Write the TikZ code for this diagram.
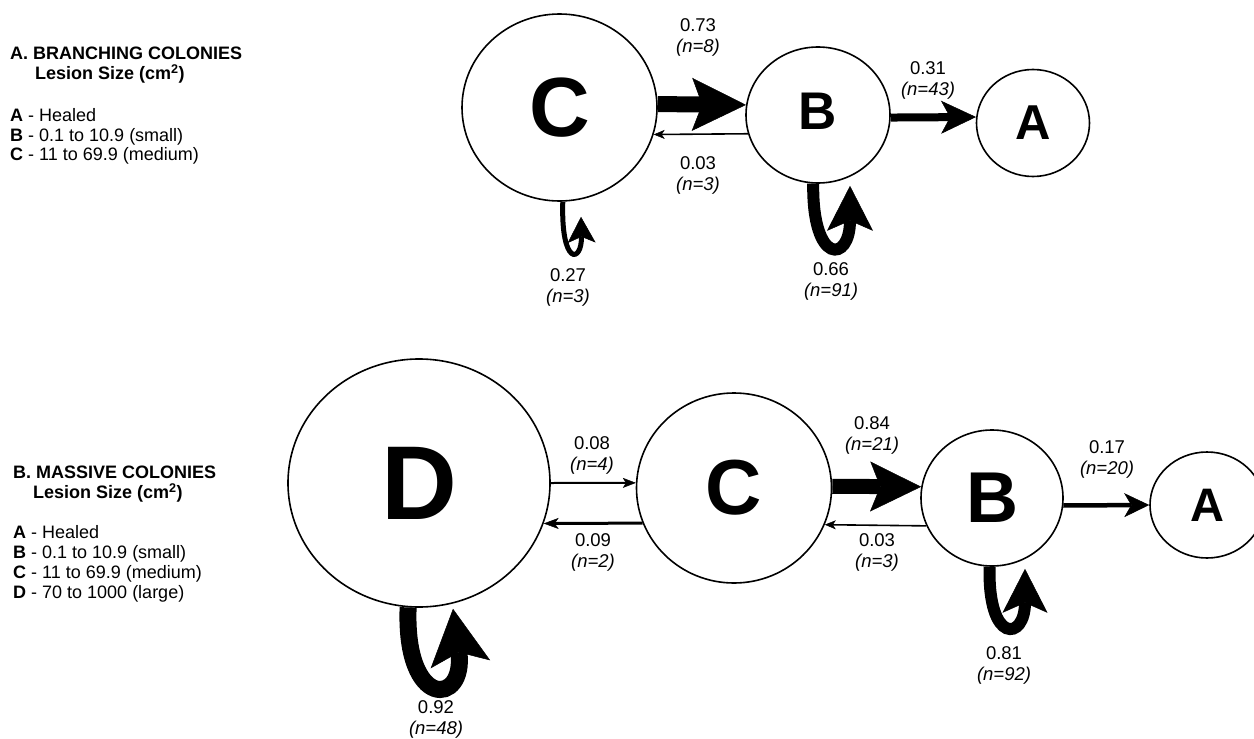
\documentclass[tikz,border=0pt]{standalone}
\usepackage{fontspec}
\setmainfont{Liberation Sans}
\usetikzlibrary{arrows.meta,shapes.geometric}

\begin{document}
\begin{tikzpicture}[x=1pt,y=1pt,
	state/.style n args={3}{ellipse, draw, line width=1.6pt, inner sep=0pt,
		minimum width=#1pt, minimum height=#2pt, font=\bfseries\fontsize{#3}{#3}\selectfont},
	rate/.style={align=center, inner sep=0pt, font=\fontsize{18.5}{21}\selectfont},
	legend/.style={anchor=base west, inner sep=0pt, font=\fontsize{18}{20}\selectfont},
	flow/.style n args={4}{line width=#1pt,
		-{Stealth[length=#2pt,width=#3pt,inset=#4pt,line width=0.5pt]}}]
	\useasboundingbox (0,0) rectangle (1254,-739);

	% A. Branching colonies
	% Legend
	\node[legend] (titleA) at (10,-59.5) {\textbf{A. BRANCHING COLONIES}};
	\node[legend] (sizeA) at (35,-79.5) {\textbf{Lesion Size (cm\textsuperscript{2})}};
	\node[legend] (healA) at (10,-121.5) {\textbf{A} - Healed};
	\node[legend] (smallA) at (10,-141) {\textbf{B} - 0.1 to 10.9 (small)};
	\node[legend] (mediumA) at (10,-160.5) {\textbf{C} - 11 to 69.9 (medium)};

	% States
	\node[state={195}{187}{84}] (C1) at (559.5,-107.5) {C};
	\node[state={144}{136}{53}] (B1) at (818,-115) {\raisebox{7pt}{B}};
	\node[state={113}{107}{49}] (A1) at (1033,-123) {A};

	% Transitions
	\draw[flow={16}{54}{53}{10}] (C1.2) -- (B1.172);
	\draw[flow={1.6}{11}{9}{3}] (B1.195) -- (C1.344);
	\draw[flow={8}{35}{33}{9}] (B1.358) -- (A1.174);

	% Stasis loops
	\coordinate (C1tip) at ([shift={(21.5,-15)}]C1.south);
	\draw[flow={5}{26}{28}{6}] (C1.272) .. controls +(-2,-65) and +(1,-46) .. (C1tip);
	\coordinate (B1tip) at ([shift={(32,-2)}]B1.south);
	\draw[flow={12}{45}{46}{10}] (B1.266) .. controls +(-1,-82) and +(0,-77) .. (B1tip);

	% Probabilities
	\node[rate] (rCB1) at (698,-37) {0.73\\\textit{(n=8)}};
	\node[rate] (rBC1) at (698,-175) {0.03\\\textit{(n=3)}};
	\node[rate] (rBA1) at (928,-80) {0.31\\\textit{(n=43)}};
	\node[rate] (rCC1) at (568,-287) {0.27\\\textit{(n=3)}};
	\node[rate] (rBB1) at (831,-281) {0.66\\\textit{(n=91)}};

	% B. Massive colonies
	% Legend
	\node[legend] (titleB) at (13,-478.5) {\textbf{B. MASSIVE COLONIES}};
	\node[legend] (sizeB) at (33,-498.5) {\textbf{Lesion Size (cm\textsuperscript{2})}};
	\node[legend] (healB) at (13,-538.5) {\textbf{A} - Healed};
	\node[legend] (smallB) at (13,-558.5) {\textbf{B} - 0.1 to 10.9 (small)};
	\node[legend] (mediumB) at (13,-578.5) {\textbf{C} - 11 to 69.9 (medium)};
	\node[legend] (largeB) at (13,-598.5) {\textbf{D} - 70 to 1000 (large)};

	% States
	\node[state={262}{248}{105}] (D2) at (419,-483) {D};
	\node[state={195}{190}{78}] (C2) at (734,-488) {C};
	\node[state={142}{136}{72}] (B2) at (992,-498) {B};
	\node[state={114}{106}{47}] (A2) at (1207,-505) {A};

	% Transitions
	\draw[flow={2}{13}{10}{3}] (D2.0) -- (C2.177);
	\draw[flow={3}{15}{11}{4}] (C2.201) -- (D2.342);
	\draw[flow={15}{51}{50}{10}] (C2.1) -- (B2.171);
	\draw[flow={1.6}{11}{9}{3}] (B2.203) -- (C2.338);
	\draw[flow={4.5}{25}{24}{7}] (B2.354) -- (A2.180);

	% Stasis loops
	\coordinate (D2tip) at ([shift={(34,-1)}]D2.south);
	\draw[flow={17}{56}{60}{12}] (D2.265) .. controls +(-4,-103) and +(13,-97) .. (D2tip);
	\coordinate (B2tip) at ([shift={(33,-2)}]B2.south);
	\draw[flow={12}{44}{45}{10}] (B2.268) .. controls +(-2,-78) and +(0,-72) .. (B2tip);

	% Probabilities
	\node[rate] (rDC2) at (592,-455) {0.08\\\textit{(n=4)}};
	\node[rate] (rCD2) at (593,-552) {0.09\\\textit{(n=2)}};
	\node[rate] (rCB2) at (872,-435) {0.84\\\textit{(n=21)}};
	\node[rate] (rBC2) at (877,-552) {0.03\\\textit{(n=3)}};
	\node[rate] (rBA2) at (1107,-459) {0.17\\\textit{(n=20)}};
	\node[rate] (rBB2) at (1004,-665) {0.81\\\textit{(n=92)}};
	\node[rate] (rDD2) at (436,-719) {0.92\\\textit{(n=48)}};
\end{tikzpicture}
\end{document}
